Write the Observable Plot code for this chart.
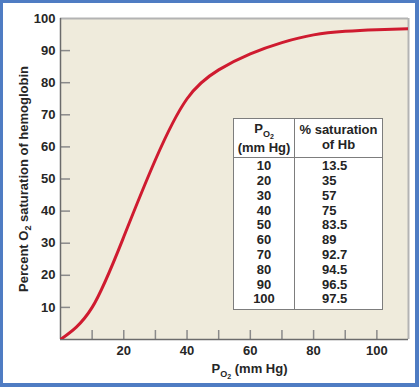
<!DOCTYPE html>
<html>
<head>
<meta charset="utf-8">
<script src="https://cdn.jsdelivr.net/npm/d3@7"></script>
<script src="https://cdn.jsdelivr.net/npm/@observablehq/plot@0.6"></script>
<style>
  html, body { margin: 0; padding: 0; background: #fff; }
  #wrap { position: relative; width: 419px; height: 387px; overflow: hidden; font-family: "Liberation Sans", Arial, sans-serif; }
  #wrap svg { position: absolute; left: 0; top: 0; }
  #border { position: absolute; left: 0; top: 0; width: 419px; height: 387px; box-sizing: border-box;
    border: 3px solid #4f7cc3; border-right-width: 4px; border-bottom-width: 4px; pointer-events: none; }
  #tbl { position: absolute; left: 233px; top: 118px; width: 150px; height: 192px; box-sizing: border-box;
    background: #fff; border: 1px solid #7d7d7d; color: #242424; font-weight: bold; font-size: 13px; }
  #tbl .div { position: absolute; left: 60px; top: 0; width: 1px; height: 100%; background: #7d7d7d; }
  #tbl .hline { position: absolute; left: 0; top: 38px; width: 100%; height: 1px; background: #7d7d7d; }
  #tbl .c1 { position: absolute; left: 0; width: 60px; text-align: center; }
  #tbl .c2 { position: absolute; left: 61px; width: 87px; }
  #tbl .h1 { top: 0.5px; line-height: 17px; }
  #tbl .h2 { top: 2.5px; line-height: 15px; text-align: center; }
  #tbl .b1, #tbl .b2 { top: 40.3px; line-height: 14.8px; }
  #tbl .b2 { padding-left: 27px; box-sizing: border-box; }
  .sub1 { font-size: 9px; position: relative; top: 4px; }
  .sub2 { font-size: 7px; position: relative; top: 2px; }
</style>
</head>
<body>
<div id="wrap"></div>
<script>
// ---- data ----
const xDomain = [0, 110];
const yDomain = [0, 100];
// inset table values
const po2 = [10, 20, 30, 40, 50, 60, 70, 80, 90, 100];
const saturation = [13.5, 35, 57, 75, 83.5, 89, 92.7, 94.5, 96.5, 97.5];
// drawn dissociation curve
const curvePO2 = [0, 10, 20, 30, 40, 50, 60, 70, 80, 90, 100, 110];
const curveSat = [0, 10, 32, 56, 75, 84, 89, 92.5, 94.9, 96, 96.5, 96.8];
const xTickValues = [10, 20, 30, 40, 50, 60, 70, 80, 90, 100];
const xTickLabels = [20, 40, 60, 80, 100];
const yTickValues = [10, 20, 30, 40, 50, 60, 70, 80, 90];
const yTickLabels = [10, 20, 30, 40, 50, 60, 70, 80, 90, 100];
const xTitle = "PO2 (mm Hg)";
const yTitle = "Percent O2 saturation of hemoglobin";
const tableHeader1 = ["P", "O", "2", "(mm Hg)"];
const tableHeader2 = ["% saturation", "of Hb"];

const curve = curvePO2.map((x, i) => ({po2: x, sat: curveSat[i]}));

const chart = Plot.plot({
  width: 419,
  height: 387,
  marginLeft: 60,
  marginRight: 11,
  marginTop: 18,
  marginBottom: 48,
  x: {domain: xDomain},
  y: {domain: yDomain},
  style: {
    background: "transparent",
    fontFamily: "'Liberation Sans', Arial, sans-serif",
    fontSize: "13px",
    fontWeight: "bold",
    color: "#262626"
  },
  marks: [
    Plot.frame({fill: "#efebdc", stroke: "none"}),
    Plot.ruleY([yDomain[1]], {stroke: "#b3b3b3", strokeWidth: 2}),
    Plot.ruleX([xDomain[1]], {stroke: "#b3b3b3", strokeWidth: 2}),
    Plot.ruleY(yTickValues, {y: d => d, x1: xDomain[0], x2: xDomain[0], insetRight: -10, stroke: "#8a8a8a", strokeWidth: 1.5}),
    Plot.ruleX(xTickValues, {x: d => d, y1: yDomain[0], y2: yDomain[0], insetTop: -9, stroke: "#8a8a8a", strokeWidth: 1.5}),
    Plot.ruleX([xDomain[0]], {stroke: "#6b6b6b", strokeWidth: 1.5}),
    Plot.ruleY([yDomain[0]], {stroke: "#6b6b6b", strokeWidth: 1.5}),
    Plot.line(curve, {x: "po2", y: "sat", curve: "natural", stroke: "#cf1b30", strokeWidth: 3, clip: true}),
    Plot.axisY(yTickLabels, {tickSize: 0, tickPadding: 5, label: null}),
    Plot.axisX(xTickLabels, {tickSize: 0, tickPadding: 6, label: null}),
    Plot.text([yTitle], {text: d => d, frameAnchor: "left", dx: -37, rotate: -90, textAnchor: "middle", lineAnchor: "middle"}),
    Plot.text([xTitle], {text: d => d, frameAnchor: "bottom", dx: 15, dy: 29, textAnchor: "middle", lineAnchor: "middle"})
  ]
});

// subscripts in titles
d3.select(chart).selectAll("text").each(function () {
  const t = this.textContent;
  const sel = d3.select(this);
  if (t === xTitle) {
    sel.text("");
    sel.append("tspan").text("P");
    sel.append("tspan").attr("font-size", 9).attr("dy", 4).text("O");
    sel.append("tspan").attr("font-size", 7).attr("dy", 2).text("2");
    sel.append("tspan").attr("font-size", 13).attr("dy", -6).text(" (mm Hg)");
  } else if (t === yTitle) {
    sel.text("");
    sel.append("tspan").text("Percent O");
    sel.append("tspan").attr("font-size", 9).attr("dy", 3).text("2");
    sel.append("tspan").attr("font-size", 13).attr("dy", -3).text(" saturation of hemoglobin");
  }
});

const wrap = document.getElementById("wrap");
wrap.appendChild(chart);

// inset table built from the data arrays
const tbl = document.createElement("div");
tbl.id = "tbl";
tbl.innerHTML =
  `<div class="div"></div><div class="hline"></div>` +
  `<div class="c1 h1">${tableHeader1[0]}<span class="sub1">${tableHeader1[1]}<span class="sub2">${tableHeader1[2]}</span></span><br>${tableHeader1[3]}</div>` +
  `<div class="c2 h2">${tableHeader2.join("<br>")}</div>` +
  `<div class="c1 b1">${po2.join("<br>")}</div>` +
  `<div class="c2 b2">${saturation.join("<br>")}</div>`;
wrap.appendChild(tbl);

const border = document.createElement("div");
border.id = "border";
wrap.appendChild(border);
</script>
</body>
</html>
